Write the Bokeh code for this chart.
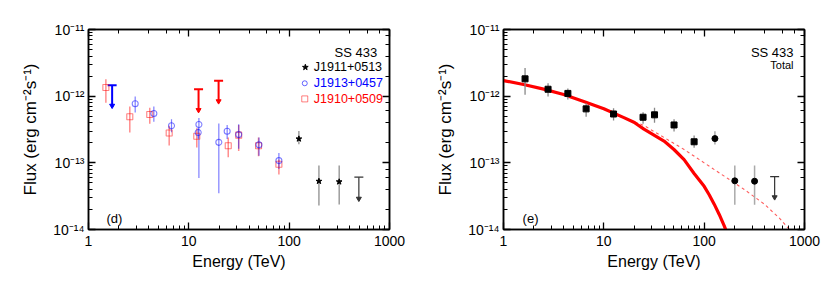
from bokeh.plotting import figure
from bokeh.models import Range1d, LogAxis, Label, CustomJSTickFormatter, LogTicker
from bokeh.layouts import row
from bokeh.embed import file_html
from bokeh.resources import INLINE

FONT = "Liberation Sans"

# ---------------- panel (d): individual sources ----------------
# J1910+0509 (red squares)
e_1910 = [1.49, 2.58, 4.08, 6.37, 12.0, 24.7, 31.4, 49.5, 79.0]
f_1910 = [1.35e-12, 4.9e-13, 5.3e-13, 2.8e-13, 2.5e-13, 1.8e-13, 2.6e-13, 1.8e-13, 9.5e-14]
up_1910 = [1.8e-12, 7.0e-13, 6.7e-13, 3.6e-13, 3.3e-13, 2.4e-13, 3.7e-13, 2.4e-13, 1.12e-13]
lo_1910 = [8.0e-13, 2.85e-13, 3.85e-13, 1.82e-13, 1.7e-13, 1.21e-13, 1.5e-13, 1.25e-13, 6.7e-14]
ul_e_1910 = [12.5, 19.8]
ul_top_1910 = [1.27e-12, 1.7e-12]
ul_tip_1910 = [6.2e-13, 8.4e-13]

# J1913+0457 (blue circles)
e_1913 = [2.92, 4.48, 6.72, 12.4, 12.6, 19.9, 24.1, 31.4, 50.0, 79.0]
f_1913 = [7.7e-13, 5.5e-13, 3.6e-13, 2.85e-13, 3.75e-13, 2.03e-13, 2.98e-13, 2.65e-13, 1.86e-13, 1.08e-13]
up_1913 = [9.9e-13, 7.0e-13, 4.5e-13, 3.3e-13, 4.7e-13, 3.9e-13, 3.7e-13, 3.8e-13, 2.4e-13, 1.41e-13]
lo_1913 = [5.7e-13, 4.15e-13, 2.87e-13, 2.3e-13, 5.9e-14, 3.5e-14, 2.28e-13, 1.62e-13, 1.28e-13, 8.1e-14]
ul_e_1913 = [1.72]
ul_top_1913 = [1.46e-12]
ul_tip_1913 = [7.2e-13]

# J1911+0513 (black stars)
e_1911 = [125.0, 198.0, 315.0]
f_1911 = [2.29e-13, 5.3e-14, 5.2e-14]
up_1911 = [3.0e-13, 9.1e-14, 9.1e-14]
lo_1911 = [1.9e-13, 2.29e-14, 2.37e-14]
ul_e_1911 = [495.0]
ul_top_1911 = [6.1e-14]
ul_tip_1911 = [2.9e-14]

# ---------------- panel (e): total ----------------
e_tot_sq = [1.64, 2.78, 4.38, 6.66, 12.5, 24.6, 32.0, 50.1, 79.4]
f_tot_sq = [1.82e-12, 1.27e-12, 1.1e-12, 6.45e-13, 5.4e-13, 4.83e-13, 5.25e-13, 3.7e-13, 2.07e-13]
up_tot_sq = [2.65e-12, 1.56e-12, 1.3e-12, 7.8e-13, 6.6e-13, 5.75e-13, 6.7e-13, 4.5e-13, 2.57e-13]
lo_tot_sq = [1.05e-12, 9.9e-13, 8.9e-13, 4.9e-13, 4.3e-13, 3.85e-13, 4.0e-13, 2.95e-13, 1.68e-13]
e_tot_ci = [128.0, 202.0, 318.0]
f_tot_ci = [2.31e-13, 5.37e-14, 5.3e-14]
up_tot_ci = [2.98e-13, 9.1e-14, 9.1e-14]
lo_tot_ci = [1.88e-13, 2.35e-14, 2.35e-14]
ul_e_tot = [504.0]
ul_top_tot = [6.2e-14]
ul_tip_tot = [3.05e-14]

# model curves
model_solid_e = [1.0, 1.585, 2.512, 3.981, 6.31, 10.0, 15.85, 19.95, 25.12, 39.81, 50.0,
                 63.1, 79.4, 100.0, 112.2, 125.9, 141.3, 158.5, 170.0]
model_solid_f = [1.714e-12, 1.496e-12, 1.274e-12, 1.059e-12, 8.32e-13, 6.46e-13, 4.77e-13,
                 4.06e-13, 3.20e-13, 2.12e-13, 1.585e-13, 1.117e-13, 6.92e-14, 4.44e-14,
                 3.32e-14, 2.40e-14, 1.68e-14, 1.13e-14, 8.7e-15]
model_dash_e = [1.0, 1.585, 2.512, 3.981, 6.31, 10.0, 15.85, 19.95, 25.12, 39.81, 63.1,
                100.0, 158.5, 251.2, 398.1, 562.3, 707.9, 760.0]
model_dash_f = [1.714e-12, 1.496e-12, 1.274e-12, 1.059e-12, 8.32e-13, 6.46e-13, 4.77e-13,
                4.17e-13, 3.63e-13, 2.40e-13, 1.585e-13, 1.0e-13, 6.31e-14, 3.98e-14,
                2.40e-14, 1.48e-14, 1.0e-14, 9.0e-15]

Y_FMT_CODE = """
const e = Math.round(Math.log(tick) / Math.LN10);
const m = {"-":"\u207b","0":"\u2070","1":"\u00b9","2":"\u00b2","3":"\u00b3","4":"\u2074",
           "5":"\u2075","6":"\u2076","7":"\u2077","8":"\u2078","9":"\u2079"};
return "10" + String(e).split("").map(c => m[c]).join("");
"""
X_FMT_CODE = "return Math.round(tick).toString();"


def style_axis(ax):
    ax.major_tick_in = 7
    ax.major_tick_out = 0
    ax.minor_tick_in = 4
    ax.minor_tick_out = 0
    ax.axis_line_width = 1.5
    ax.major_tick_line_width = 1.3
    ax.minor_tick_line_width = 1.0
    ax.axis_line_color = "black"
    ax.major_tick_line_color = "black"
    ax.minor_tick_line_color = "black"
    ax.major_label_text_font = FONT
    ax.major_label_text_font_size = "14px"
    ax.major_label_text_color = "black"
    ax.axis_label_text_font = FONT
    ax.axis_label_text_font_style = "normal"
    ax.axis_label_text_font_size = "16px"
    ax.axis_label_text_color = "black"


def make_fig(width, border_left, border_right):
    p = figure(width=width, height=279, x_axis_type="log", y_axis_type="log",
               x_range=Range1d(1, 1000), y_range=Range1d(1e-14, 1e-11),
               output_backend="svg", toolbar_location=None,
               min_border_left=border_left, min_border_right=border_right,
               min_border_top=29, min_border_bottom=50)
    p.grid.visible = False
    p.outline_line_color = "black"
    p.outline_line_width = 1.5
    p.background_fill_color = "white"
    p.border_fill_color = "white"
    for ax in p.xaxis:
        style_axis(ax)
        ax.formatter = CustomJSTickFormatter(code=X_FMT_CODE)
        ax.major_label_standoff = 6
        ax.axis_label = "Energy (TeV)"
        ax.axis_label_standoff = 4
    for ax in p.yaxis:
        style_axis(ax)
        ax.formatter = CustomJSTickFormatter(code=Y_FMT_CODE)
        ax.major_label_standoff = 4
        ax.axis_label = "Flux (erg cm\u207b\u00b2s\u207b\u00b9)"
        ax.axis_label_text_font_size = "17px"
        ax.axis_label_standoff = 10
    top = LogAxis(ticker=LogTicker(), formatter=CustomJSTickFormatter(code="return '';"))
    right = LogAxis(ticker=LogTicker(), formatter=CustomJSTickFormatter(code="return '';"))
    for ax in (top, right):
        style_axis(ax)
        ax.major_label_standoff = 0
    p.add_layout(top, "above")
    p.add_layout(right, "right")
    return p


def add_label(p, x, y, text, size, color="black", align="left"):
    p.add_layout(Label(x=x, y=y, text=text, text_font=FONT, text_font_size=size,
                       text_color=color, text_align=align, text_baseline="middle"))


def upper_limits(p, xs, tops, tips, color, width, alpha=1.0):
    p.segment(x0=xs, y0=tops, x1=xs, y1=tips, line_color=color, line_width=width, line_alpha=alpha)
    p.scatter(x=xs, y=tops, marker="dash", size=9, line_color=color, line_width=width, line_alpha=alpha)
    p.scatter(x=xs, y=tips, marker="inverted_triangle", size=5, line_color=color,
              fill_color=color, line_alpha=alpha, fill_alpha=alpha)


# ---------------- left panel ----------------
p1 = make_fig(423, 88, 34)
p1.segment(x0=e_1910, y0=lo_1910, x1=e_1910, y1=up_1910, line_color="red", line_alpha=0.45, line_width=1.5)
p1.segment(x0=e_1913, y0=lo_1913, x1=e_1913, y1=up_1913, line_color="blue", line_alpha=0.5, line_width=1.2)
p1.segment(x0=e_1911, y0=lo_1911, x1=e_1911, y1=up_1911, line_color="#777777", line_alpha=0.9, line_width=1.2)
upper_limits(p1, ul_e_1910, ul_top_1910, ul_tip_1910, "red", 2)
upper_limits(p1, ul_e_1913, ul_top_1913, ul_tip_1913, "blue", 2)
upper_limits(p1, ul_e_1911, ul_top_1911, ul_tip_1911, "#333333", 1.2)
p1.scatter(x=e_1910, y=f_1910, marker="square", size=6, fill_color=None,
           line_color="red", line_alpha=0.5, line_width=1.1)
p1.scatter(x=e_1913, y=f_1913, marker="circle", size=6, fill_color=None,
           line_color="blue", line_alpha=0.5, line_width=1.1)
p1.scatter(x=e_1911, y=f_1911, marker="star", size=6, fill_color="black", line_color="black")

add_label(p1, 755, 4.55e-12, "SS 433", "13px", align="right")
p1.scatter(x=[145], y=[2.71e-12], marker="star", size=6, fill_color="black", line_color="black")
p1.scatter(x=[143], y=[1.56e-12], marker="circle", size=5, fill_color=None, line_color="blue", line_alpha=0.6)
p1.scatter(x=[143], y=[9.1e-13], marker="square", size=6, fill_color=None, line_color="red", line_alpha=0.5)
add_label(p1, 176, 2.71e-12, "J1911+0513", "12.5px", "black")
add_label(p1, 176, 1.56e-12, "J1913+0457", "12.5px", "blue")
add_label(p1, 176, 9.1e-13, "J1910+0509", "12.5px", "red")
add_label(p1, 1.51, 1.45e-14, "(d)", "13px")

# ---------------- right panel ----------------
p2 = make_fig(399, 80, 18)
p2.line(x=model_dash_e, y=model_dash_f, line_color="red", line_alpha=0.65, line_width=1.1, line_dash="3 3")
p2.line(x=model_solid_e, y=model_solid_f, line_color="red", line_width=3.2)
p2.segment(x0=e_tot_sq, y0=lo_tot_sq, x1=e_tot_sq, y1=up_tot_sq, line_color="#888888", line_width=1.3)
p2.segment(x0=e_tot_ci, y0=lo_tot_ci, x1=e_tot_ci, y1=up_tot_ci, line_color="#aaaaaa", line_width=1.5)
upper_limits(p2, ul_e_tot, ul_top_tot, ul_tip_tot, "#333333", 1.2)
p2.scatter(x=e_tot_sq, y=f_tot_sq, marker="square", size=6, fill_color="black", line_color="black")
p2.scatter(x=e_tot_ci, y=f_tot_ci, marker="circle", size=6, fill_color="black", line_color="black")

add_label(p2, 778, 4.55e-12, "SS 433", "13px", align="right")
add_label(p2, 778, 2.95e-12, "Total", "11px", align="right")
add_label(p2, 1.55, 1.45e-14, "(e)", "13px")

layout = row(p1, p2)
open("out.html", "w").write(file_html(layout, INLINE))
